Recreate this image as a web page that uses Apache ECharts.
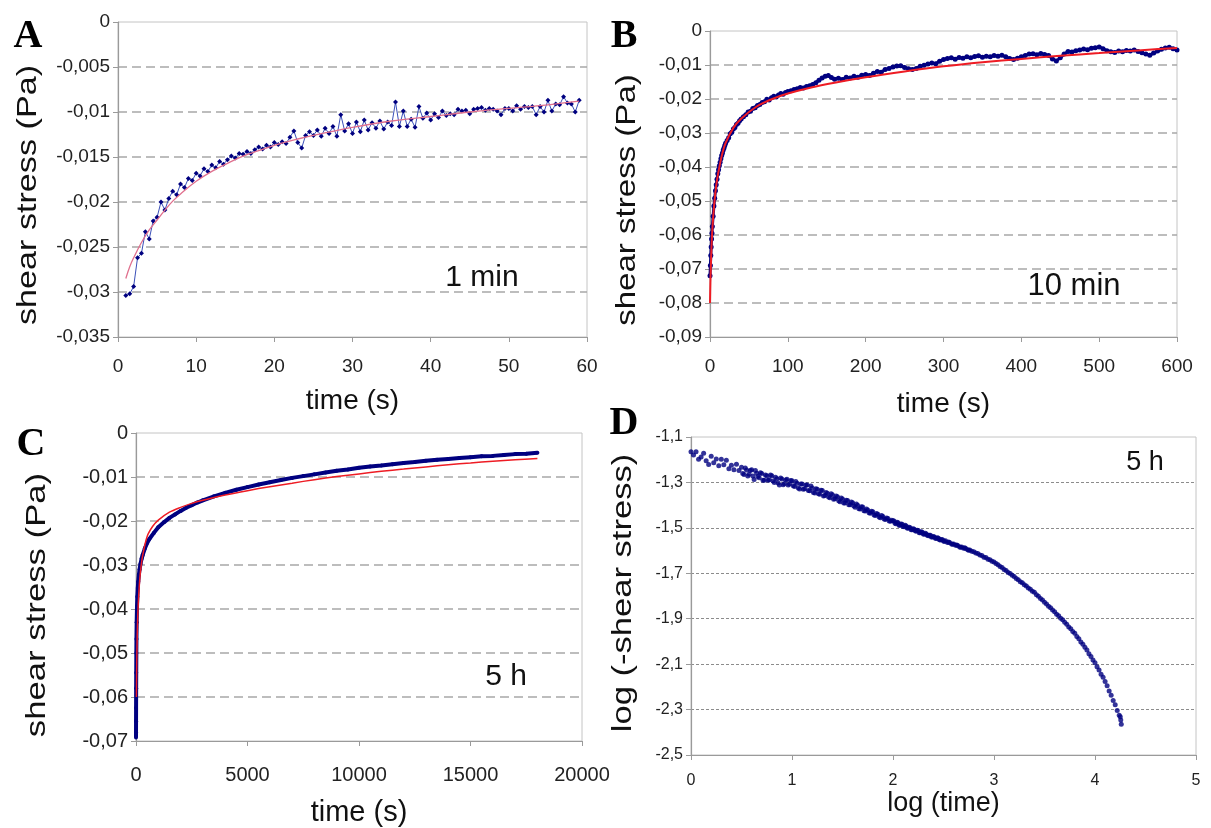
<!DOCTYPE html>
<html><head><meta charset="utf-8">
<script src="https://cdn.jsdelivr.net/npm/echarts/dist/echarts.min.js"></script>
<style>html,body{margin:0;padding:0;background:#fff}#c{width:1211px;height:828px}</style>
</head><body><div id="c"></div><script>
// ---------- DATA ----------
// Panel A (1 min): [time s, shear stress Pa]
var aPoints = [[1,-0.0304],[1.5,-0.0302],[2,-0.0294],[2.5,-0.0262],[3,-0.0257],[3.5,-0.0233],[4,-0.0241],[4.5,-0.0221],[5,-0.0217],[5.5,-0.0200],
[6,-0.0209],[6.5,-0.0196],[7,-0.0188],[7.5,-0.0192],[8,-0.0180],[8.5,-0.0184],[9,-0.0174],[9.5,-0.0176],[10,-0.0168],[10.5,-0.0171],
[11,-0.0163],[11.5,-0.0166],[12,-0.0159],[12.5,-0.0162],[13,-0.0155],[13.5,-0.0158],[14,-0.0153],[14.5,-0.0149],[15,-0.0151],[15.5,-0.0146],
[16,-0.0147],[16.5,-0.0144],[17,-0.0146],[17.5,-0.0142],[18,-0.0139],[18.5,-0.0141],[19,-0.0137],[19.5,-0.0139],[20,-0.0134],[20.5,-0.0136],
[21,-0.0133],[21.5,-0.0135],[22,-0.0128],[22.5,-0.0121],[23,-0.0134],[23.5,-0.0140],[24,-0.0126],[24.5,-0.0122],[25,-0.0126],[25.5,-0.0120],
[26,-0.0127],[26.5,-0.0118],[27,-0.0124],[27.5,-0.0116],[28,-0.0127],[28.5,-0.0103],[29,-0.0121],[29.5,-0.0113],[30,-0.0124],[30.5,-0.0111],
[31,-0.0122],[31.5,-0.0109],[32,-0.0120],[32.5,-0.0112],[33,-0.0118],[33.5,-0.0110],[34,-0.0119],[34.5,-0.0111],[35,-0.0115],[35.5,-0.0089],
[36,-0.0116],[36.5,-0.0099],[37,-0.0116],[37.5,-0.0108],[38,-0.0117],[38.5,-0.0094],[39,-0.0107],[39.5,-0.0101],[40,-0.0109],[40.5,-0.0102],
[41,-0.0106],[41.5,-0.0099],[42,-0.0104],[42.5,-0.0102],[43,-0.0103],[43.5,-0.0097],[44,-0.0099],[44.5,-0.0098],[45,-0.0102],[45.5,-0.0097],
[46,-0.0096],[46.5,-0.0095],[47,-0.0098],[47.5,-0.0096],[48,-0.0097],[48.5,-0.0099],[49,-0.0103],[49.5,-0.0096],[50,-0.0096],[50.5,-0.0099],
[51,-0.0093],[51.5,-0.0097],[52,-0.0094],[52.5,-0.0095],[53,-0.0094],[53.5,-0.0103],[54,-0.0094],[54.5,-0.0100],[55,-0.0087],[55.5,-0.0099],
[56,-0.0091],[56.5,-0.0092],[57,-0.0083],[57.5,-0.0090],[58,-0.0091],[58.5,-0.0100],[59,-0.0087]];
var aFit = [[1,-0.0285],[1.5,-0.0272],[2,-0.0262],[3,-0.0245],[4,-0.0231],[5,-0.0220],[6,-0.0209],[7,-0.0199],[8,-0.0191],[10,-0.0177],
[12,-0.0166],[14,-0.0157],[16,-0.0149],[18,-0.0143],[20,-0.0137],[23,-0.0130],[26,-0.0124],[30,-0.0117],[35,-0.0110],[40,-0.0105],
[45,-0.0100],[50,-0.0096],[55,-0.0092],[59,-0.0088]];

// Panel B (10 min)
var bPoints = [[0,-0.0720],[0.5,-0.0690],[1,-0.0660],[1.5,-0.0635],[2,-0.0612],[2.5,-0.0595],[3,-0.0575],[4,-0.0545],[5,-0.0515],[6,-0.0492],
[7,-0.0470],[8,-0.0452],[9,-0.0436],[10,-0.0420],[11,-0.0408],[12,-0.0396],[13,-0.0386],[14,-0.0376],[15,-0.0366],[16,-0.0359],
[17,-0.0350],[18,-0.0344],[19,-0.0337],[20,-0.0330],[22,-0.0322],[24,-0.0314],[26,-0.0302],[28,-0.0298],[30,-0.0288],[32,-0.0284],
[34,-0.0275],[36,-0.0271],[38,-0.0264],[40,-0.0259],[43,-0.0252],[46,-0.0246],[49,-0.0238],[52,-0.0236],[55,-0.0228],[58,-0.0226],
[61,-0.0219],[64,-0.0216],[67,-0.0210],[70,-0.0208],[73,-0.0201],[76,-0.0203],[79,-0.0196],[82,-0.0192],[85,-0.0194],[88,-0.0188],
[91,-0.0184],[94,-0.0186],[97,-0.0181],[100,-0.0178],[104,-0.0176],[108,-0.0172],[112,-0.0170],[116,-0.0166],[120,-0.0168],[124,-0.0163],
[128,-0.0161],[132,-0.0157],[136,-0.0152],[140,-0.0145],[144,-0.0138],[148,-0.0133],[152,-0.0131],[156,-0.0137],[160,-0.0142],[165,-0.0139],
[170,-0.0143],[175,-0.0136],[180,-0.0138],[185,-0.0133],[190,-0.0136],[195,-0.0130],[200,-0.0128],[205,-0.0131],[210,-0.0124],[215,-0.0119],
[220,-0.0121],[225,-0.0113],[230,-0.0110],[235,-0.0106],[240,-0.0103],[245,-0.0102],[250,-0.0107],[255,-0.0111],[260,-0.0113],[265,-0.0110],
[270,-0.0104],[275,-0.0101],[280,-0.0097],[285,-0.0094],[290,-0.0096],[295,-0.0089],[300,-0.0084],[305,-0.0081],[310,-0.0079],[315,-0.0083],
[320,-0.0078],[325,-0.0080],[330,-0.0076],[335,-0.0079],[340,-0.0075],[345,-0.0073],[350,-0.0077],[355,-0.0074],[360,-0.0076],[365,-0.0072],
[370,-0.0074],[375,-0.0071],[380,-0.0076],[385,-0.0081],[390,-0.0084],[395,-0.0080],[400,-0.0076],[405,-0.0072],[410,-0.0068],[415,-0.0067],
[420,-0.0070],[425,-0.0066],[430,-0.0069],[435,-0.0072],[440,-0.0082],[445,-0.0088],[450,-0.0079],[455,-0.0068],[460,-0.0060],[465,-0.0062],
[470,-0.0058],[475,-0.0056],[480,-0.0053],[485,-0.0055],[490,-0.0051],[495,-0.0049],[500,-0.0047],[505,-0.0052],[510,-0.0058],[515,-0.0061],
[520,-0.0063],[525,-0.0059],[530,-0.0061],[535,-0.0057],[540,-0.0059],[545,-0.0056],[550,-0.0060],[555,-0.0064],[560,-0.0068],[565,-0.0071],
[570,-0.0065],[575,-0.0059],[580,-0.0054],[585,-0.0050],[590,-0.0048],[595,-0.0052],[600,-0.0056]];
var bFit = [[0,-0.0800],[0.5,-0.0740],[1,-0.0700],[2,-0.0630],[3,-0.0585],[4,-0.0550],[6,-0.0495],[8,-0.0455],[10,-0.0425],[15,-0.0368],
[20,-0.0330],[30,-0.0285],[40,-0.0258],[60,-0.0222],[80,-0.0200],[100,-0.0184],[130,-0.0166],[160,-0.0152],[200,-0.0136],[250,-0.0119],
[300,-0.0104],[350,-0.0092],[400,-0.0082],[450,-0.0073],[500,-0.0065],[550,-0.0057],[600,-0.0050]];

// Panel C (5 h)
var cPoints = [[0,-0.0692],[1,-0.0680],[2,-0.0655],[4,-0.0625],[7,-0.0580],[10,-0.0545],[15,-0.0500],[20,-0.0468],[30,-0.0430],[45,-0.0395],
[60,-0.0372],[80,-0.0352],[100,-0.0338],[130,-0.0322],[160,-0.0310],[200,-0.0298],[250,-0.0286],[300,-0.0277],[400,-0.0262],[500,-0.0250],
[600,-0.0241],[800,-0.0227],[1000,-0.0214],[1250,-0.0203],[1500,-0.0193],[1750,-0.0185],[2000,-0.0177],[2250,-0.0170],[2500,-0.0164],[2750,-0.0158],
[3000,-0.0153],[3500,-0.0144],[4000,-0.0136],[4500,-0.0129],[5000,-0.0123],[5500,-0.0117],[6000,-0.0112],[6500,-0.0107],[7000,-0.0102],[7500,-0.0098],
[8000,-0.0094],[8500,-0.0090],[9000,-0.0086],[9500,-0.0083],[10000,-0.0079],[10500,-0.0076],[11000,-0.0074],[11500,-0.0071],[12000,-0.0068],[12500,-0.0066],
[13000,-0.0063],[13500,-0.0061],[14000,-0.0059],[14500,-0.0057],[15000,-0.0055],[15500,-0.0053],[16000,-0.0052],[16500,-0.0050],[17000,-0.0048],[17500,-0.0047],
[18000,-0.0045]];
var cFit = [[20,-0.0600],[40,-0.0500],[70,-0.0430],[100,-0.0390],[150,-0.0345],[200,-0.0315],[300,-0.0278],[500,-0.0235],[750,-0.0212],[1000,-0.0198],
[1500,-0.0180],[2000,-0.0169],[2500,-0.0160],[3000,-0.0153],[4000,-0.0141],[5000,-0.0131],[6000,-0.0122],[7000,-0.0114],[8000,-0.0106],[9000,-0.0099],
[10000,-0.0093],[11000,-0.0087],[12000,-0.0082],[13000,-0.0077],[14000,-0.0072],[15000,-0.0068],[16000,-0.0064],[17000,-0.0061],[18000,-0.0058]];

// Panel D (5 h, log-log): [log time, log(-shear stress)]
var dPoints = [[0.000,-1.165],[0.025,-1.179],[0.050,-1.165],[0.075,-1.198],[0.100,-1.188],[0.125,-1.172],[0.150,-1.205],[0.175,-1.221],[0.200,-1.185],[0.225,-1.213],
[0.250,-1.197],[0.275,-1.227],[0.300,-1.198],[0.325,-1.222],[0.350,-1.202],[0.375,-1.240],[0.400,-1.224],[0.425,-1.244],[0.450,-1.220],[0.475,-1.247],
[0.500,-1.233],[0.525,-1.265],[0.550,-1.245],[0.575,-1.264],[0.600,-1.244],[0.625,-1.287],[0.650,-1.260],[0.675,-1.279],[0.700,-1.261],[0.725,-1.290],
[0.750,-1.271],[0.775,-1.288],[0.800,-1.271],[0.825,-1.300],[0.850,-1.284],[0.875,-1.311],[0.900,-1.285],[0.925,-1.306],[0.950,-1.286],[0.975,-1.307],
[1.000,-1.293],[1.025,-1.318],[1.050,-1.304],[1.075,-1.329],[1.100,-1.307],[1.125,-1.328],[1.150,-1.311],[1.175,-1.337],[1.200,-1.324],[1.225,-1.346],
[1.250,-1.330],[1.275,-1.352],[1.300,-1.336],[1.325,-1.358],[1.350,-1.348],[1.375,-1.368],[1.400,-1.354],[1.425,-1.372],[1.450,-1.363],[1.475,-1.385],
[1.500,-1.373],[1.525,-1.391],[1.550,-1.380],[1.575,-1.398],[1.600,-1.390],[1.625,-1.409],[1.650,-1.400],[1.675,-1.417],[1.700,-1.408],[1.725,-1.426],
[1.750,-1.421],[1.775,-1.436],[1.800,-1.429],[1.825,-1.446],[1.850,-1.440],[1.875,-1.455],[1.900,-1.450],[1.925,-1.463],[1.950,-1.459],[1.975,-1.471],
[2.000,-1.469],[2.02,-1.480],[2.04,-1.475],[2.06,-1.488],[2.08,-1.483],[2.10,-1.494],[2.12,-1.489],[2.14,-1.501],[2.16,-1.497],[2.18,-1.508],
[2.20,-1.504],[2.22,-1.513],[2.24,-1.511],[2.26,-1.521],[2.28,-1.517],[2.30,-1.527],[2.32,-1.524],[2.34,-1.533],[2.36,-1.532],[2.38,-1.540],
[2.40,-1.538],[2.42,-1.546],[2.44,-1.544],[2.46,-1.552],[2.48,-1.551],[2.50,-1.558],[2.52,-1.557],[2.54,-1.564],[2.56,-1.564],[2.58,-1.571],
[2.60,-1.571],[2.62,-1.577],[2.64,-1.578],[2.66,-1.584],[2.68,-1.584],[2.70,-1.590],[2.72,-1.591],[2.74,-1.596],[2.76,-1.597],[2.78,-1.603],
[2.80,-1.605],[2.82,-1.611],[2.84,-1.613],[2.86,-1.620],[2.88,-1.622],[2.90,-1.629],[2.92,-1.631],[2.94,-1.638],[2.96,-1.640],[2.98,-1.647],
[3.00,-1.650],[3.02,-1.657],[3.04,-1.662],[3.06,-1.670],[3.08,-1.675],[3.10,-1.683],[3.12,-1.688],[3.14,-1.696],[3.16,-1.701],[3.18,-1.709],
[3.20,-1.714],[3.22,-1.723],[3.24,-1.728],[3.26,-1.737],[3.28,-1.742],[3.30,-1.751],[3.32,-1.756],[3.34,-1.765],[3.36,-1.770],[3.38,-1.779],
[3.40,-1.784],[3.42,-1.794],[3.44,-1.801],[3.46,-1.811],[3.48,-1.818],[3.50,-1.828],[3.52,-1.835],[3.54,-1.845],[3.56,-1.852],[3.58,-1.862],
[3.60,-1.869],[3.62,-1.880],[3.64,-1.887],[3.66,-1.898],[3.68,-1.905],[3.70,-1.916],[3.72,-1.924],[3.74,-1.936],[3.76,-1.944],[3.78,-1.956],
[3.80,-1.964],[3.82,-1.978],[3.84,-1.988],[3.86,-2.002],[3.88,-2.012],[3.90,-2.026],[3.92,-2.038],[3.94,-2.054],[3.96,-2.066],[3.98,-2.082],
[4.00,-2.094],[4.02,-2.112],[4.04,-2.126],[4.06,-2.144],[4.08,-2.158],[4.10,-2.176],[4.12,-2.195],[4.14,-2.218],[4.16,-2.237],[4.18,-2.260],
[4.20,-2.279],[4.22,-2.304],[4.24,-2.325],[4.25,-2.332],[4.255,-2.346],[4.26,-2.365],
[0.5125,-1.261],[0.5375,-1.237],[0.5625,-1.272],[0.5875,-1.248],[0.6125,-1.272],[0.6375,-1.247],[0.6625,-1.274],[0.6875,-1.257],[0.7125,-1.290],[0.7375,-1.267],
[0.7625,-1.290],[0.7875,-1.267],[0.8125,-1.294],[0.8375,-1.277],[0.8625,-1.303],[0.8875,-1.280],[0.9125,-1.310],[0.9375,-1.289],[0.9625,-1.311],[0.9875,-1.292],
[1.0125,-1.315],[1.0375,-1.296],[1.0625,-1.325],[1.0875,-1.307],[1.1125,-1.330],[1.1375,-1.311],[1.1625,-1.335],[1.1875,-1.316],[1.2125,-1.344],[1.2375,-1.328],
[1.2625,-1.350],[1.2875,-1.334],[1.3125,-1.360],[1.3375,-1.344],[1.3625,-1.364],[1.3875,-1.350],[1.4125,-1.374],[1.4375,-1.360],[1.4625,-1.381],[1.4875,-1.369],
[1.5125,-1.391],[1.5375,-1.379],[1.5625,-1.398],[1.5875,-1.386],[1.6125,-1.404],[1.6375,-1.395],[1.6625,-1.416],[1.6875,-1.407],[1.7125,-1.425],[1.7375,-1.417],
[1.7625,-1.434],[1.7875,-1.427],[1.8125,-1.443],[1.8375,-1.437],[1.8625,-1.452],[1.8875,-1.446],[1.9125,-1.461],[1.9375,-1.457],[1.9625,-1.470],[1.9875,-1.466],
[2.01,-1.470],[2.03,-1.482],[2.05,-1.477],[2.07,-1.488],[2.09,-1.484],[2.11,-1.495],[2.13,-1.492],[2.15,-1.502],[2.17,-1.499],[2.19,-1.508],
[2.21,-1.506],[2.23,-1.515],[2.25,-1.512],[2.27,-1.522],[2.29,-1.519],[2.31,-1.528],[2.33,-1.527],[2.35,-1.535],[2.37,-1.533],[2.39,-1.540],
[2.41,-1.540],[2.43,-1.547],[2.45,-1.546],[2.47,-1.553],[2.49,-1.552],[2.51,-1.560],[2.55,-1.562],[2.59,-1.572],[2.63,-1.575],[2.67,-1.585],
[2.71,-1.588],[2.75,-1.599]];

// Tick / axis settings
var aTicks = {xmin: 0, xmax: 60, xstep: 10, ymin: -0.035, ymax: 0, ystep: 0.005};
var bTicks = {xmin: 0, xmax: 600, xstep: 100, ymin: -0.09, ymax: 0, ystep: 0.01};
var cTicks = {xmin: 0, xmax: 20000, xstep: 5000, ymin: -0.07, ymax: 0, ystep: 0.01};
var dTicks = {xmin: 0, xmax: 5, xstep: 1, ymin: -2.5, ymax: -1.1, ystep: 0.2};

// ---------- CHART ----------
var FONT = '"Liberation Sans", Arial, sans-serif';
var NAVY = '#000080';
function comma(v) { if (Math.abs(v) < 1e-12) return '0'; return String(+v.toFixed(4)).replace('.', ','); }

function xAx(gi, t, name, fs, margin, gap, nfs) {
  return {
    gridIndex: gi, type: 'value', min: t.xmin, max: t.xmax, interval: t.xstep,
    name: name, nameLocation: 'middle', nameGap: gap,
    nameTextStyle: {fontFamily: FONT, fontSize: nfs, color: '#111'},
    axisLine: {show: true, onZero: false, lineStyle: {color: '#9a9a9a', width: 1.2}},
    axisTick: {show: true, length: 5, lineStyle: {color: '#9a9a9a'}},
    axisLabel: {fontFamily: FONT, fontSize: fs, color: '#222', margin: margin, formatter: comma},
    splitLine: {show: false}
  };
}
function yAx(gi, t, fs, dotted) {
  return {
    gridIndex: gi, type: 'value', min: t.ymin, max: t.ymax, interval: t.ystep,
    axisLine: {show: true, onZero: false, lineStyle: {color: '#9a9a9a', width: 1.2}},
    axisTick: {show: true, length: 5, lineStyle: {color: '#9a9a9a'}},
    axisLabel: {fontFamily: FONT, fontSize: fs, color: '#222', margin: 8, formatter: comma},
    splitLine: {show: true, showMinLine: false, showMaxLine: false,
      lineStyle: dotted ? {type: [3, 2], color: '#8c8c8c', width: 1} : {type: [9, 5], color: '#a8a8a8', width: 1.5}}
  };
}
function gridBox(l, t, w, h) {
  return {left: l, top: t, width: w, height: h, show: true, borderColor: '#c4c4c4', borderWidth: 1, backgroundColor: '#fff'};
}
function letter(ch, x, y) {
  return {type: 'text', style: {x: x, y: y, text: ch, font: 'bold 40px "Liberation Serif"', fill: '#000', textAlign: 'center', textVerticalAlign: 'middle'}};
}
function note(txt, x, y, fs) {
  return {type: 'text', style: {x: x, y: y, text: txt, font: fs + 'px "Liberation Sans"', fill: '#111', textAlign: 'center', textVerticalAlign: 'middle'}};
}
function yTitle(txt, x, y, fs, stretch) {
  return {type: 'text', x: x, y: y, rotation: Math.PI / 2, scaleX: stretch, scaleY: 1,
    style: {x: 0, y: 0, text: txt, font: fs + 'px "Liberation Sans"', fill: '#111', textAlign: 'center', textVerticalAlign: 'middle'}};
}

var chart = echarts.init(document.getElementById('c'), null, {renderer: 'canvas'});
chart.setOption({
  animation: false,
  backgroundColor: '#fff',
  grid: [gridBox(118, 22, 469, 315), gridBox(710, 31, 467, 306), gridBox(136, 433, 446, 308), gridBox(691, 437, 505, 318)],
  xAxis: [
    xAx(0, aTicks, 'time (s)', 19, 20, 50, 28),
    xAx(1, bTicks, 'time (s)', 19, 20, 53, 28),
    xAx(2, cTicks, 'time (s)', 20, 24, 57, 29),
    xAx(3, dTicks, 'log (time)', 16, 18, 34, 27)
  ],
  yAxis: [
    yAx(0, aTicks, 19, false),
    yAx(1, bTicks, 19, false),
    yAx(2, cTicks, 20, false),
    yAx(3, dTicks, 16, true)
  ],
  series: [
    {type: 'line', xAxisIndex: 0, yAxisIndex: 0, data: aPoints, symbol: 'diamond', symbolSize: 5,
     itemStyle: {color: NAVY}, lineStyle: {color: '#3a4fb8', width: 1}, z: 3},
    {type: 'line', xAxisIndex: 0, yAxisIndex: 0, data: aFit, smooth: 0.4, showSymbol: false,
     lineStyle: {color: '#e0708e', width: 1.3}, z: 4},
    {type: 'line', xAxisIndex: 1, yAxisIndex: 1, data: bPoints, symbol: 'circle', symbolSize: 5,
     itemStyle: {color: NAVY}, lineStyle: {color: NAVY, width: 3}, z: 3},
    {type: 'line', xAxisIndex: 1, yAxisIndex: 1, data: bFit, smooth: 0.3, showSymbol: false,
     lineStyle: {color: '#ee1c24', width: 2}, z: 4},
    {type: 'line', xAxisIndex: 2, yAxisIndex: 2, data: cPoints, symbol: 'circle', symbolSize: 4,
     itemStyle: {color: NAVY}, lineStyle: {color: NAVY, width: 4}, z: 3},
    {type: 'line', xAxisIndex: 2, yAxisIndex: 2, data: cFit, smooth: 0.3, showSymbol: false,
     lineStyle: {color: '#ee1c24', width: 1.5}, z: 4},
    {type: 'scatter', xAxisIndex: 3, yAxisIndex: 3, data: dPoints, symbol: 'circle', symbolSize: 5,
     itemStyle: {color: NAVY}, z: 3}
  ],
  graphic: [
    letter('A', 28, 37), letter('B', 624, 37), letter('C', 31, 445), letter('D', 624, 424),
    note('1 min', 482, 278, 30), note('10 min', 1074, 286, 31), note('5 h', 506, 677, 30), note('5 h', 1145, 463, 27),
    yTitle('shear stress (Pa)', 28, 195, 28, 1.22),
    yTitle('shear stress (Pa)', 627, 200, 28, 1.18),
    yTitle('shear stress (Pa)', 37, 605, 28, 1.24),
    yTitle('log (-shear stress)', 624, 593, 27, 1.28)
  ]
});
</script></body></html>
